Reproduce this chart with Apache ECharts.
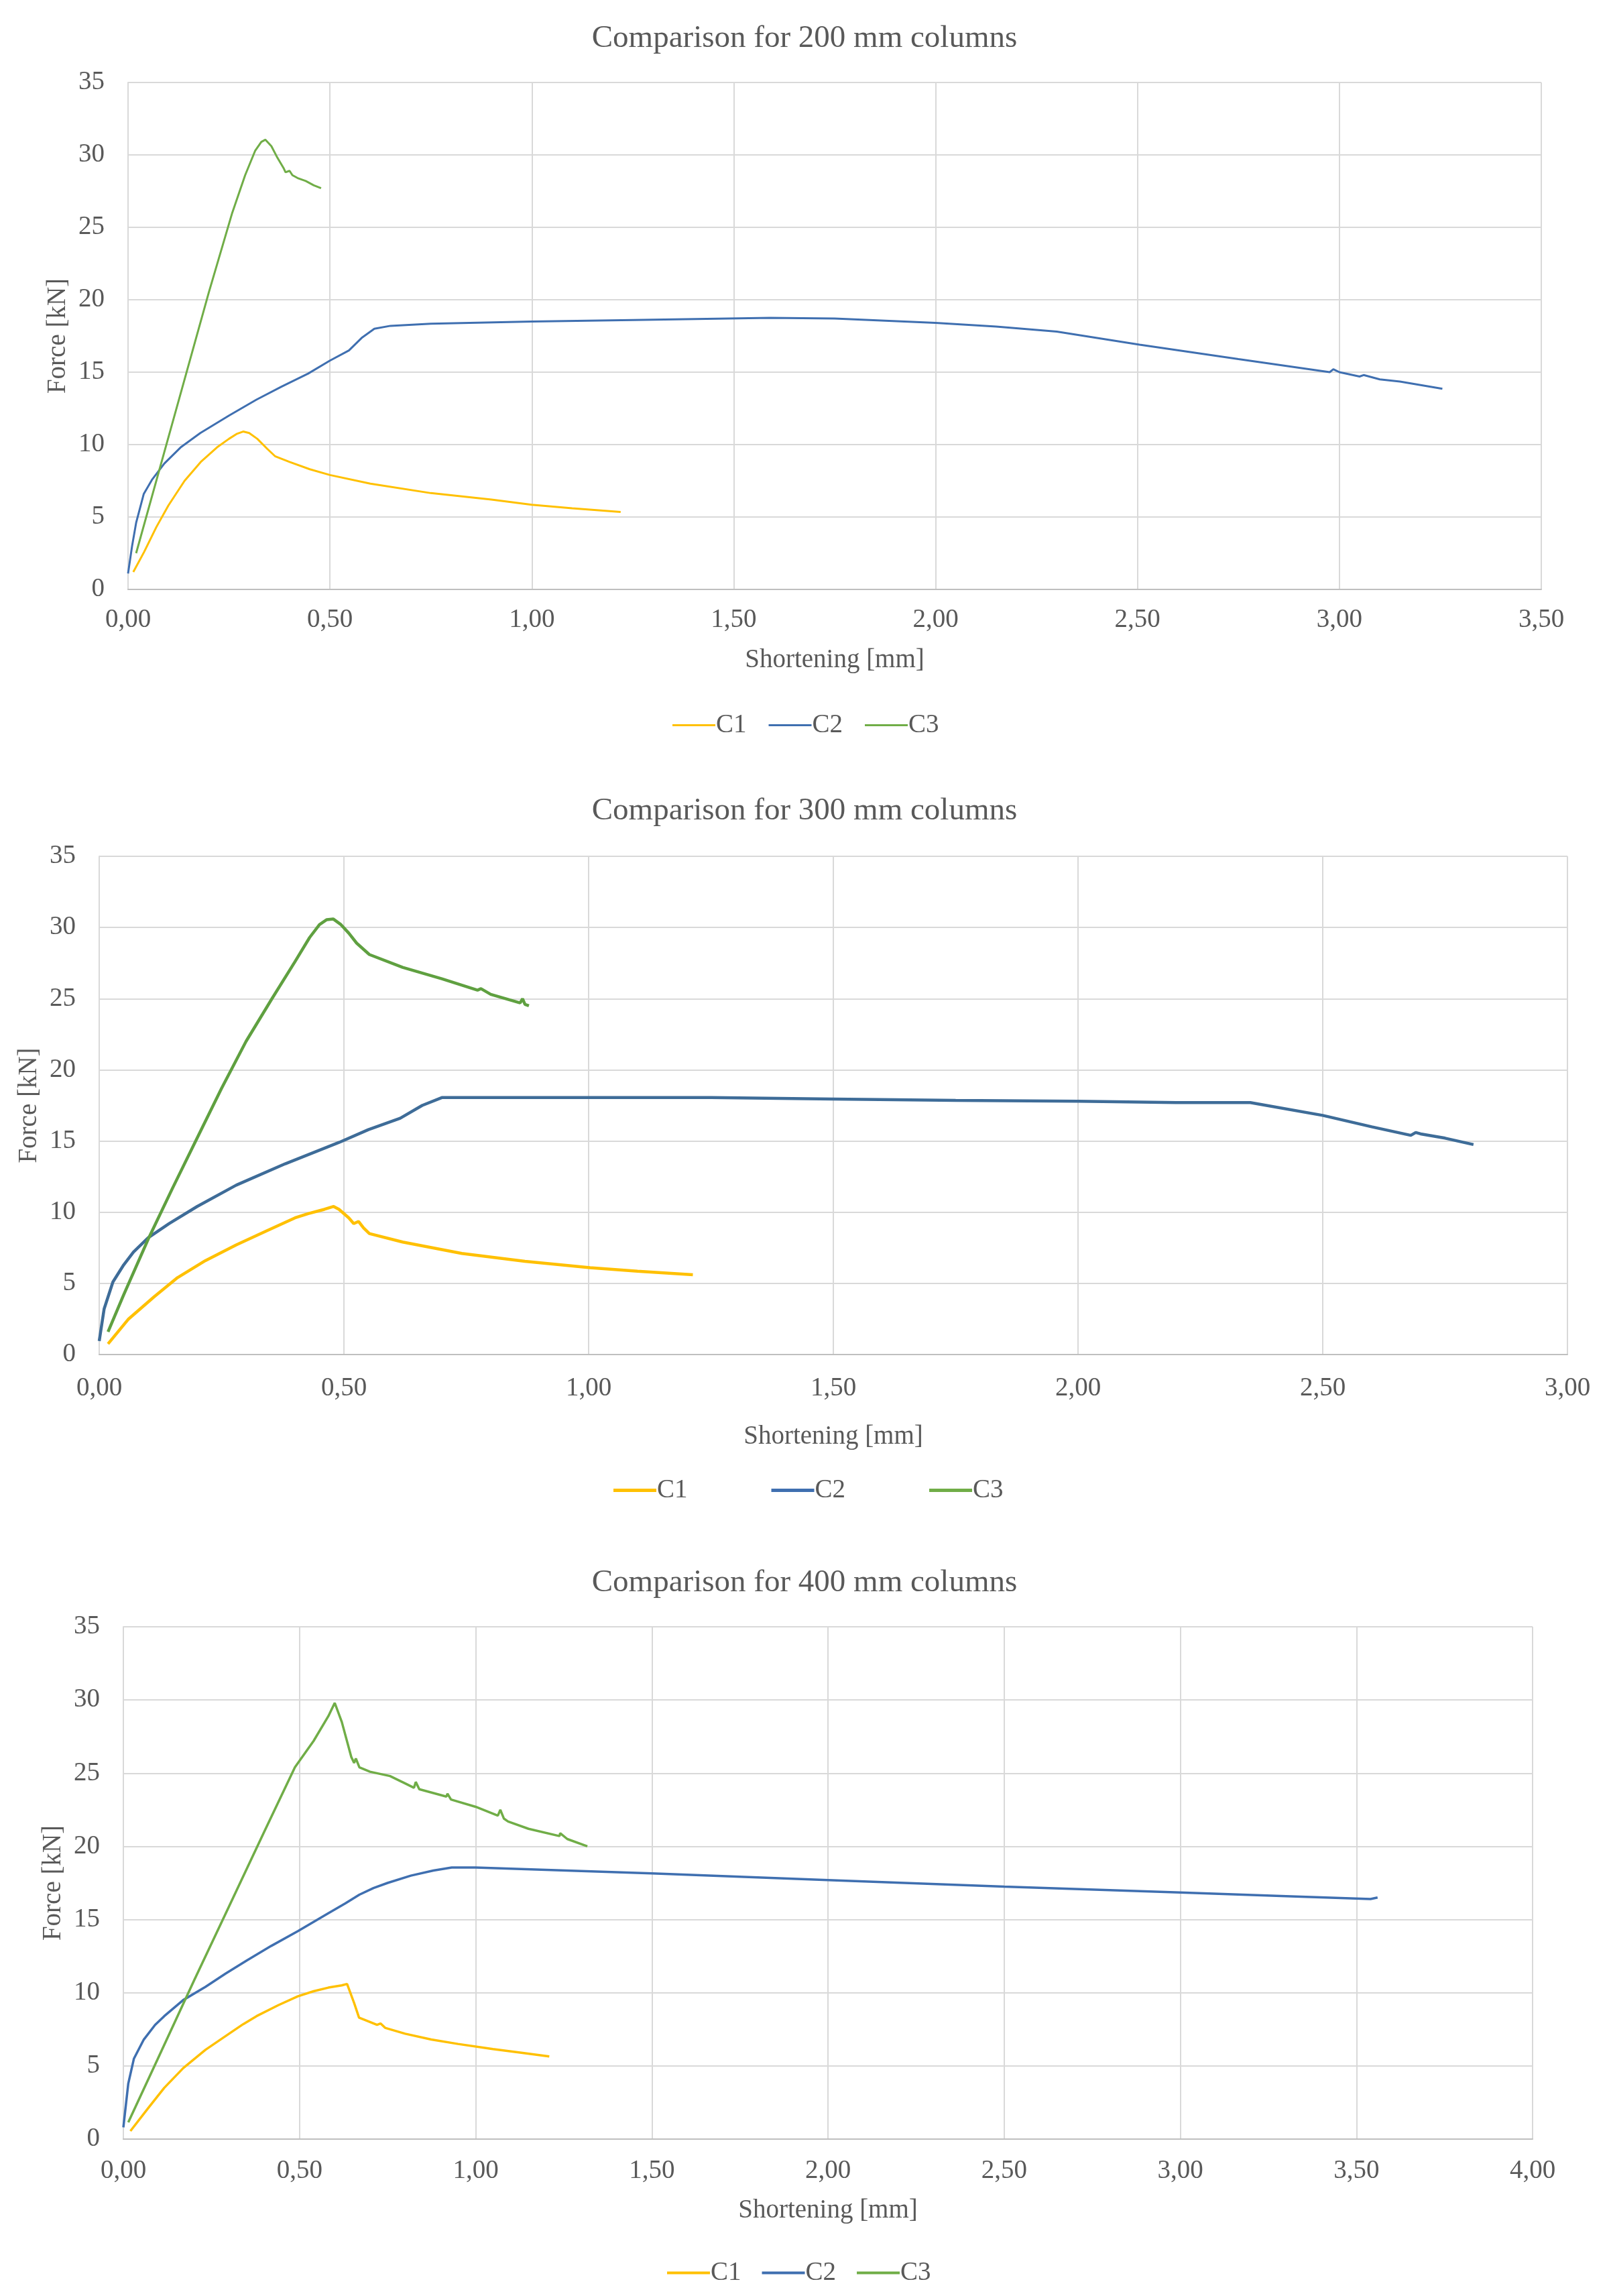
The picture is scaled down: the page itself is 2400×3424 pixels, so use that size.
<!DOCTYPE html>
<html>
<head>
<meta charset="utf-8">
<script src="https://cdn.jsdelivr.net/npm/echarts@6/dist/echarts.min.js"></script>
<style>
html,body{margin:0;padding:0;background:#fff;}
#main{width:2400px;height:3424px;}
</style>
</head>
<body>
<div id="main"></div>
<script>
// ---------- data ----------
var seriesNames = ['C1', 'C2', 'C3'];
var chartTitles = ['Comparison for 200 mm columns', 'Comparison for 300 mm columns', 'Comparison for 400 mm columns'];
var xMax = [3.5, 3.0, 4.0];
var yTicks = [0, 5, 10, 15, 20, 25, 30, 35];

// 200 mm columns: [shortening mm, force kN]
var c200_C1 = [[0.013,1.2],[0.04,2.6],[0.07,4.3],[0.1,5.8],[0.14,7.5],[0.18,8.8],[0.22,9.8],[0.25,10.4],[0.27,10.75],[0.285,10.9],[0.30,10.8],[0.32,10.4],[0.345,9.7],[0.364,9.2],[0.40,8.8],[0.45,8.3],[0.5,7.9],[0.6,7.3],[0.75,6.65],[0.9,6.2],[1.0,5.85],[1.1,5.6],[1.22,5.35]];
var c200_C2 = [[0.0,1.1],[0.01,3.0],[0.02,4.6],[0.039,6.6],[0.06,7.6],[0.09,8.7],[0.13,9.8],[0.179,10.8],[0.25,12.0],[0.318,13.1],[0.38,14.0],[0.446,14.9],[0.5,15.8],[0.547,16.5],[0.58,17.4],[0.61,18.0],[0.65,18.2],[0.75,18.35],[1.0,18.5],[1.25,18.6],[1.59,18.75],[1.75,18.7],[2.0,18.4],[2.15,18.15],[2.30,17.8],[2.505,16.9],[2.75,15.9],[2.976,15.0],[2.985,15.2],[3.0,15.0],[3.05,14.7],[3.06,14.8],[3.1,14.5],[3.15,14.35],[3.255,13.85]];
var c200_C3 = [[0.02,2.5],[0.1,10.5],[0.2,20.5],[0.258,26.0],[0.29,28.6],[0.315,30.3],[0.33,30.9],[0.34,31.05],[0.355,30.6],[0.37,29.8],[0.385,29.1],[0.39,28.8],[0.40,28.9],[0.407,28.6],[0.42,28.4],[0.44,28.2],[0.46,27.9],[0.478,27.7]];

// 300 mm columns
var c300_C1 = [[0.018,0.75],[0.06,2.5],[0.112,4.05],[0.16,5.4],[0.217,6.6],[0.28,7.7],[0.343,8.7],[0.40,9.6],[0.427,9.9],[0.46,10.2],[0.479,10.4],[0.49,10.2],[0.51,9.6],[0.52,9.2],[0.53,9.35],[0.54,8.9],[0.552,8.5],[0.62,7.9],[0.741,7.1],[0.87,6.55],[1.003,6.1],[1.1,5.85],[1.213,5.6]];
var c300_C2 = [[0.0,0.95],[0.01,3.2],[0.028,5.1],[0.05,6.3],[0.07,7.2],[0.1,8.2],[0.143,9.2],[0.2,10.4],[0.28,11.9],[0.38,13.4],[0.49,14.9],[0.55,15.8],[0.615,16.6],[0.66,17.5],[0.70,18.05],[0.8,18.05],[1.0,18.05],[1.25,18.05],[1.5,17.95],[1.75,17.85],[2.0,17.8],[2.2,17.7],[2.352,17.7],[2.5,16.8],[2.6,16.0],[2.68,15.4],[2.69,15.6],[2.70,15.5],[2.75,15.2],[2.808,14.75]];
var c300_C3 = [[0.018,1.6],[0.05,4.2],[0.1,8.1],[0.15,11.7],[0.2,15.2],[0.25,18.7],[0.3,22.0],[0.353,25.0],[0.40,27.6],[0.43,29.3],[0.45,30.2],[0.465,30.55],[0.478,30.6],[0.494,30.2],[0.51,29.6],[0.526,28.9],[0.552,28.1],[0.62,27.2],[0.7,26.4],[0.773,25.6],[0.78,25.7],[0.8,25.3],[0.86,24.7],[0.865,25.0],[0.87,24.6],[0.878,24.5]];

// 400 mm columns
var c400_C1 = [[0.02,0.55],[0.07,2.1],[0.116,3.5],[0.17,4.85],[0.233,6.1],[0.3,7.2],[0.34,7.85],[0.378,8.4],[0.44,9.15],[0.495,9.75],[0.54,10.1],[0.582,10.35],[0.62,10.5],[0.635,10.6],[0.655,9.3],[0.669,8.3],[0.70,8.0],[0.72,7.8],[0.73,7.9],[0.743,7.6],[0.8,7.2],[0.874,6.8],[0.95,6.5],[1.049,6.15],[1.13,5.9],[1.209,5.65]];
var c400_C2 = [[0.0,0.8],[0.014,3.8],[0.03,5.5],[0.058,6.8],[0.09,7.8],[0.116,8.4],[0.17,9.5],[0.233,10.4],[0.29,11.3],[0.35,12.2],[0.42,13.2],[0.495,14.2],[0.58,15.4],[0.63,16.1],[0.67,16.7],[0.71,17.15],[0.75,17.5],[0.816,18.0],[0.88,18.35],[0.932,18.55],[1.0,18.55],[1.5,18.15],[2.0,17.7],[2.5,17.25],[3.0,16.85],[3.3,16.6],[3.54,16.4],[3.56,16.5]];
var c400_C3 = [[0.014,1.15],[0.1,5.6],[0.2,10.8],[0.3,15.9],[0.4,21.0],[0.487,25.4],[0.54,27.2],[0.582,28.9],[0.600,29.8],[0.62,28.5],[0.647,26.1],[0.655,25.7],[0.66,26.0],[0.67,25.4],[0.70,25.1],[0.757,24.8],[0.80,24.3],[0.825,24.0],[0.83,24.4],[0.84,23.9],[0.917,23.4],[0.92,23.6],[0.93,23.2],[1.0,22.7],[1.063,22.1],[1.07,22.5],[1.08,21.9],[1.092,21.7],[1.15,21.2],[1.238,20.7],[1.24,20.9],[1.26,20.5],[1.317,20.0]];

var allData = [[c200_C1, c200_C2, c200_C3], [c300_C1, c300_C2, c300_C3], [c400_C1, c400_C2, c400_C3]];

// ---------- layout / style ----------
var FONT = "'Liberation Serif', 'Times New Roman', serif";
var TXT = '#595959';
var colors = [
  ['#FFC000', '#3F6FB0', '#70AD47'],
  ['#FFC000', '#3E6C98', '#5FA040'],
  ['#FFC000', '#3F6FB0', '#70AD47']
];
var grids = [
  {left: 191, top: 123, width: 2108, height: 756},
  {left: 148, top: 1277, width: 2190, height: 743},
  {left: 184, top: 2426, width: 2102, height: 764}
];
var titleTops = [29, 1181, 2332];
var legendPos = [{left: 998, top: 1057, gap: 33, h: 3}, {left: 910, top: 2198, gap: 125, h: 5}, {left: 990, top: 3365, gap: 31, h: 4}];
var lineW = [3, 4.5, 3.5];
var xNameGap = [86, 103, 87];
var yNameGap = [80, 85, 82];
var xLabelMargin = [26, 31, 28];

var option = {
  backgroundColor: '#ffffff',
  animation: false,
  title: [], grid: [], xAxis: [], yAxis: [], legend: [], series: []
};

function fmtX(v) { return v.toFixed(2).replace('.', ','); }

for (var i = 0; i < 3; i++) {
  option.title.push({
    text: chartTitles[i], left: 'center', top: titleTops[i],
    textStyle: {fontFamily: FONT, fontSize: 47, fontWeight: 'normal', color: TXT}
  });
  option.grid.push({left: grids[i].left, top: grids[i].top, width: grids[i].width, height: grids[i].height, containLabel: false});
  option.xAxis.push({
    type: 'value', gridIndex: i, min: 0, max: xMax[i], interval: 0.5,
    name: 'Shortening [mm]', nameLocation: 'middle', nameGap: xNameGap[i],
    nameTextStyle: {fontFamily: FONT, fontSize: 39, color: TXT},
    axisLine: {show: true, lineStyle: {color: '#BFBFBF', width: 2}},
    axisTick: {show: false},
    axisLabel: {fontFamily: FONT, fontSize: 39, color: TXT, margin: xLabelMargin[i], formatter: fmtX, showMinLabel: true, showMaxLabel: true},
    splitLine: {show: true, lineStyle: {color: '#D9D9D9', width: 2}}
  });
  option.yAxis.push({
    type: 'value', gridIndex: i, min: yTicks[0], max: yTicks[yTicks.length - 1], interval: 5,
    name: 'Force [kN]', nameLocation: 'middle', nameGap: yNameGap[i], nameRotate: 90,
    nameTextStyle: {fontFamily: FONT, fontSize: 39, color: TXT},
    axisLine: {show: true, lineStyle: {color: '#D9D9D9', width: 2}},
    axisTick: {show: false},
    axisLabel: {fontFamily: FONT, fontSize: 39, color: TXT, margin: 35},
    splitLine: {show: true, lineStyle: {color: '#D9D9D9', width: 2}}
  });
  option.legend.push({
    data: seriesNames.slice(), left: legendPos[i].left, top: legendPos[i].top,
    orient: 'horizontal', itemGap: legendPos[i].gap, itemWidth: 64, itemHeight: legendPos[i].h,
    icon: 'rect', selectedMode: false,
    textStyle: {fontFamily: FONT, fontSize: 39, color: TXT, padding: [0, 0, 0, -4]}
  });
  for (var s = 0; s < 3; s++) {
    option.series.push({
      name: seriesNames[s], type: 'line', xAxisIndex: i, yAxisIndex: i,
      data: allData[i][s], showSymbol: false, symbol: 'none', smooth: false,
      color: colors[i][s],
      lineStyle: {color: colors[i][s], width: lineW[i]},
      emphasis: {disabled: true}
    });
  }
}

var chart = echarts.init(document.getElementById('main'), null, {renderer: 'canvas'});
chart.setOption(option);
</script>
</body>
</html>
